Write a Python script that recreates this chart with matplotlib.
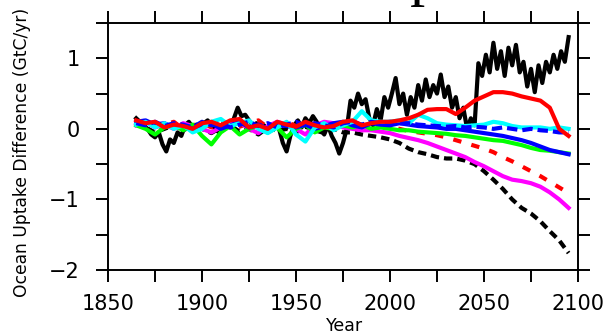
import numpy as np
import matplotlib.pyplot as plt
from matplotlib.ticker import MultipleLocator

# ── Données ──
years5 = np.arange(1865, 2096, 5)
years2 = np.arange(1865, 2096, 2)

black_solid = [0.15, 0.1, 0.05, 0.0, -0.08,
               -0.12, -0.05, -0.22, -0.32, -0.15,
               -0.2, -0.05, -0.1, 0.05, 0.1,
               0.02, 0.06, 0.0, 0.08, 0.12,
               0.05, 0.0, -0.05, -0.02, 0.05,
               0.02, 0.15, 0.3, 0.18, 0.2,
               0.12, 0.05, 0.08, 0.0, 0.05,
               -0.05, 0.05, 0.08, 0.0, -0.2,
               -0.32, -0.1, 0.05, 0.12, 0.02,
               0.15, 0.08, 0.18, 0.1, 0.0,
               -0.08, 0.05, -0.1, -0.2, -0.35,
               -0.2, 0.0, 0.4, 0.3, 0.5,
               0.35, 0.42, 0.15, 0.05, 0.28,
               0.12, 0.45, 0.3, 0.5, 0.72,
               0.35, 0.5, 0.2, 0.45, 0.3,
               0.62, 0.4, 0.7, 0.45, 0.62,
               0.5, 0.77, 0.45, 0.6, 0.3,
               0.45, 0.15, 0.3, 0.0, 0.15,
               0.05, 0.93, 0.75, 1.05, 0.8,
               1.22, 0.85, 1.1, 0.75, 1.15,
               0.9, 1.19, 0.8, 0.95, 0.6,
               0.85, 0.52, 0.9, 0.65, 0.95,
               0.8, 1.05, 0.85, 1.1, 0.95,
               1.3]

red_solid = [0.12, 0.08, 0.1, 0.02, 0.06, 0.04, 0.0, 0.08, 0.1, 0.05,
             0.12, 0.14, 0.02, 0.05, 0.0, 0.1, 0.06, 0.03, 0.1, 0.05,
             0.02, 0.04, 0.1, 0.12, 0.05, 0.08, 0.1,
             0.1, 0.12, 0.15, 0.2, 0.27, 0.28, 0.28, 0.21, 0.3,
             0.4, 0.46, 0.52, 0.52, 0.5, 0.46, 0.43, 0.4, 0.3, 0.0, -0.1]

red_dash = [0.08, 0.12, 0.04, 0.06, 0.1, 0.0, 0.05, 0.09, 0.02, 0.1,
            0.06, 0.03, 0.08, 0.12, 0.02, 0.06, 0.1, 0.04, 0.0, 0.08,
            0.05, 0.02, 0.06, 0.1, 0.04, 0.06, 0.03,
            0.03, 0.0, -0.03, -0.05, -0.07, -0.09, -0.12, -0.16, -0.2,
            -0.24, -0.28, -0.33, -0.4, -0.46, -0.53, -0.6, -0.67, -0.75, -0.83, -0.91]

black_dot = [0.1, 0.02, -0.05, 0.0, 0.05, -0.02, 0.04, 0.0, -0.06, 0.02,
             0.05, -0.04, 0.0, -0.08, 0.02, -0.03, 0.0, -0.05, 0.03, -0.02,
             -0.06, 0.0, -0.05, -0.05, -0.08, -0.1, -0.12,
             -0.15, -0.2, -0.28, -0.33, -0.36, -0.4, -0.42, -0.42, -0.45,
             -0.5, -0.6, -0.72, -0.85, -1.0, -1.12, -1.2, -1.31, -1.45, -1.58, -1.76]

magenta = [0.05, 0.1, 0.02, 0.06, 0.0, 0.08, 0.04, 0.0, -0.05, 0.02,
           0.08, 0.1, 0.0, -0.06, 0.04, 0.1, 0.06, 0.0, -0.08, 0.05,
           0.1, 0.08, 0.02, 0.0, -0.02, -0.02, -0.04,
           -0.06, -0.1, -0.13, -0.16, -0.2, -0.25, -0.3, -0.35, -0.4,
           -0.47, -0.53, -0.6, -0.67, -0.72, -0.74, -0.77, -0.82, -0.9, -1.0, -1.12]

green = [0.05, 0.0, -0.08, 0.02, 0.05, -0.02, 0.06, -0.1, -0.22, -0.05,
         0.04, -0.08, 0.0, 0.05, -0.05, 0.02, -0.12, 0.0, 0.06, -0.05,
         0.02, 0.0, 0.05, 0.02, 0.06, 0.0, 0.02,
         0.0, -0.02, -0.02, -0.04, -0.05, -0.06, -0.07, -0.09, -0.1,
         -0.12, -0.14, -0.16, -0.17, -0.2, -0.23, -0.27, -0.3, -0.31, -0.33, -0.35]

blue_solid = [0.1, 0.12, 0.06, 0.08, 0.02, 0.05, 0.0, 0.04, 0.08, 0.0,
              0.05, 0.1, 0.02, 0.06, 0.0, 0.08, 0.04, 0.02, 0.06, 0.0,
              0.04, 0.08, 0.1, 0.05, 0.02, 0.08, 0.06,
              0.05, 0.08, 0.06, 0.04, 0.03, 0.02, 0.0, 0.0, -0.02,
              -0.04, -0.06, -0.08, -0.1, -0.13, -0.16, -0.2, -0.25, -0.3, -0.33, -0.36]

blue_dash = [0.08, 0.05, 0.1, 0.04, 0.08, 0.06, 0.02, 0.1, 0.05, 0.08,
             0.02, 0.06, 0.1, 0.04, 0.08, 0.02, 0.06, 0.1, 0.04, 0.08,
             0.05, 0.02, 0.08, 0.1, 0.06, 0.1, 0.08,
             0.1, 0.08, 0.08, 0.06, 0.05, 0.04, 0.03, 0.04, 0.02,
             0.03, 0.02, 0.0, 0.02, 0.0, -0.02, 0.0, -0.02, -0.03, -0.05, -0.05]

cyan = [0.06, 0.1, 0.02, 0.08, 0.0, 0.05, -0.05, 0.0, 0.1, 0.14,
        0.04, 0.08, 0.12, 0.0, -0.06, 0.02, 0.1, -0.08, -0.18, 0.02,
        0.08, -0.02, 0.05, 0.1, 0.25, 0.12, 0.1,
        0.1, 0.12, 0.08, 0.2, 0.15, 0.08, 0.06, 0.05, 0.04,
        0.05, 0.06, 0.1, 0.08, 0.04, 0.02, 0.02, 0.02, 0.0, 0.02, 0.0]

xticks = [1850, 1900, 1950, 2000, 2050, 2100]
yticks = [-2, -1, 0, 1]

fig = plt.figure(figsize=(6.15, 3.35), dpi=100)
ax = fig.add_axes([108 / 615, 1 - 270 / 335, 470 / 615, 247 / 335])

lw = 3.0
ax.plot(years2, black_solid, color='black', lw=lw)
ax.plot(years5, black_dot, color='black', lw=lw, ls=(0, (2, 1.2)))
ax.plot(years5, red_dash, color='#ff0000', lw=lw, ls=(0, (2, 2.5)))
ax.plot(years5, magenta, color='#ff00ff', lw=lw)
ax.plot(years5, green, color='#00ff00', lw=lw)
ax.plot(years5, blue_solid, color='#0000ff', lw=lw)
ax.plot(years5, cyan, color='#00ffff', lw=lw)
ax.plot(years5, blue_dash, color='#0000ff', lw=lw, ls=(0, (2.5, 1.2)))
ax.plot(years5, red_solid, color='#ff0000', lw=lw)

ax.set_xlim(1850, 2100)
ax.set_ylim(-2, 1.5)
ax.set_xticks(xticks)
ax.set_yticks(yticks)
ax.set_yticklabels(['\u22122', '\u22121', '0', '1'])
ax.xaxis.set_minor_locator(MultipleLocator(25))
ax.yaxis.set_minor_locator(MultipleLocator(0.5))
ax.tick_params(which='both', direction='out', length=8.5, width=1.4,
               top=True, right=True)
ax.tick_params(axis='x', labelsize=15, pad=9)
ax.tick_params(axis='y', labelsize=15, pad=12)
for s in ax.spines.values():
    s.set_linewidth(1.4)

fig.text(22 / 615, 1 - 152 / 335, 'Ocean Uptake Difference (GtC/yr)',
         rotation=90, ha='center', va='center', fontsize=12.3)
fig.text(345 / 615, 1 - 326 / 335, 'Year', ha='center', va='center', fontsize=12.5)
# titre coupé en haut : seul le jambage du "p" dépasse
fig.text(368 / 615, 1 + 6 / 335, 'Uptake', ha='left', va='baseline', fontsize=43,
         family='Liberation Serif')

fig.savefig('out.png', dpi=100)
